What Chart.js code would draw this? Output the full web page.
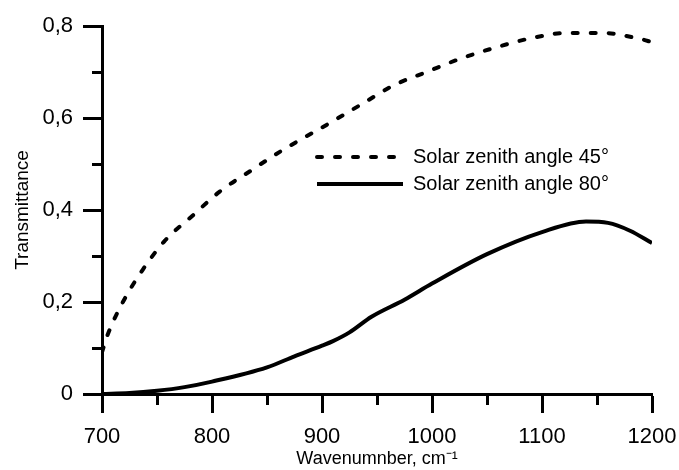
<!DOCTYPE html>
<html>
<head>
<meta charset="utf-8">
<script src="https://cdn.jsdelivr.net/npm/chart.js@4/dist/chart.umd.min.js"></script>
<style>
  html, body { margin: 0; padding: 0; background: #fff; }
  #wrap { width: 679px; height: 470px; }
</style>
</head>
<body>
<div id="wrap"><canvas id="chart"></canvas></div>
<script>
// values
const wavenumber45 = [700, 705, 719, 737, 757, 782, 807, 835, 862, 907, 936, 966, 995, 1027, 1059, 1091, 1123, 1155, 1189, 1200];
const trans45 = [0.091, 0.128, 0.2, 0.27, 0.333, 0.387, 0.44, 0.485, 0.527, 0.589, 0.63, 0.672, 0.7, 0.73, 0.754, 0.774, 0.785, 0.785, 0.772, 0.765];
const wavenumber80 = [700, 725, 750, 775, 800, 850, 875, 900, 910, 925, 945, 975, 1000, 1050, 1100, 1140, 1160, 1180, 1200];
const trans80 = [0, 0.002, 0.007, 0.015, 0.027, 0.058, 0.082, 0.105, 0.115, 0.134, 0.168, 0.205, 0.24, 0.304, 0.352, 0.375, 0.372, 0.355, 0.328];
const seriesLabels = ['Solar zenith angle 45°', 'Solar zenith angle 80°'];

const toPoints = (xs, ys) => xs.map((x, i) => ({ x: x, y: ys[i] }));

// hand made legend inside the plot
const legendInside = {
    id: 'legendInside',
    afterDatasetsDraw(chart) {
        const ctx = chart.ctx;
        const rows = [
            { y: 157, x2: 397 },
            { y: 184, x2: 403 }
        ];
        ctx.save();
        chart.data.datasets.forEach((ds, i) => {
            const r = rows[i];
            ctx.strokeStyle = ds.borderColor;
            ctx.lineWidth = ds.borderWidth;
            ctx.lineCap = ds.borderCapStyle || 'butt';
            ctx.setLineDash(ds.borderDash || []);
            ctx.beginPath();
            ctx.moveTo(317, r.y);
            ctx.lineTo(r.x2, r.y);
            ctx.stroke();
            ctx.setLineDash([]);
            ctx.fillStyle = '#000';
            ctx.font = '20px "Liberation Sans", Arial, sans-serif';
            ctx.textBaseline = 'middle';
            ctx.fillText(ds.label, 413, r.y);
        });
        ctx.restore();
    }
};

const data = {
    datasets: [{
        label: seriesLabels[0],
        data: toPoints(wavenumber45, trans45),
        borderColor: '#000',
        borderWidth: 4,
        borderDash: [5, 13],
        borderCapStyle: 'round',
        pointRadius: 0,
        cubicInterpolationMode: 'monotone'
    }, {
        label: seriesLabels[1],
        data: toPoints(wavenumber80, trans80),
        borderColor: '#000',
        borderWidth: 4,
        pointRadius: 0,
        cubicInterpolationMode: 'monotone'
    }]
};

const font = { family: '"Liberation Sans", Arial, sans-serif' };

const config = {
    type: 'line',
    data,
    options: {
        responsive: true,
        maintainAspectRatio: false,
        animation: false,
        layout: {
            padding: { top: 26, right: 27, bottom: 0, left: 0 }
        },
        plugins: {
            legend: { display: false },
            tooltip: { enabled: false }
        },
        scales: {
            x: {
                type: 'linear',
                min: 700,
                max: 1200,
                afterFit: (scale) => {
                    scale.height = 76;
                    scale.paddingLeft = 0;
                    scale.paddingRight = 0;
                },
                border: { display: true, color: '#000', width: 3 },
                grid: {
                    drawOnChartArea: false,
                    drawTicks: true,
                    tickLength: 19,
                    tickWidth: 3,
                    tickColor: '#000',
                    tickBorderDash: (c) => (c.tick && c.tick.value % 100 !== 0) ? [9, 40] : []
                },
                ticks: {
                    stepSize: 50,
                    autoSkip: false,
                    maxRotation: 0,
                    padding: 11,
                    color: '#000',
                    font: { ...font, size: 22 },
                    callback: (v) => v % 100 === 0 ? String(v) : ''
                },
                title: {
                    display: true,
                    text: 'Wavenumnber, cm⁻¹',
                    color: '#000',
                    font: { ...font, size: 18 },
                    padding: { top: 0, bottom: 0 }
                }
            },
            y: {
                min: 0,
                max: 0.8,
                afterFit: (scale) => {
                    scale.width = 102;
                    scale.paddingTop = 0;
                    scale.paddingBottom = 0;
                },
                border: { display: true, color: '#000', width: 3 },
                grid: {
                    drawOnChartArea: false,
                    drawTicks: true,
                    tickLength: 19,
                    tickWidth: 3,
                    tickColor: '#000',
                    tickBorderDash: (c) => (c.tick && Math.round(c.tick.value * 10) % 2 !== 0) ? [0, 9, 30, 0] : []
                },
                ticks: {
                    stepSize: 0.1,
                    padding: 10,
                    color: '#000',
                    font: { ...font, size: 22 },
                    callback: (v) => {
                        const n = Math.round(v * 10);
                        if (n % 2 !== 0) return '';
                        return n === 0 ? '0' : (n / 10).toFixed(1).replace('.', ',');
                    }
                },
                title: {
                    display: true,
                    text: 'Transmittance',
                    color: '#000',
                    font: { ...font, size: 19 },
                    padding: { top: 11, bottom: 0 }
                }
            }
        }
    },
    plugins: [legendInside]
};

var chart = document.getElementById('chart');
var myChart = new Chart(chart, config);
</script>
</body>
</html>
